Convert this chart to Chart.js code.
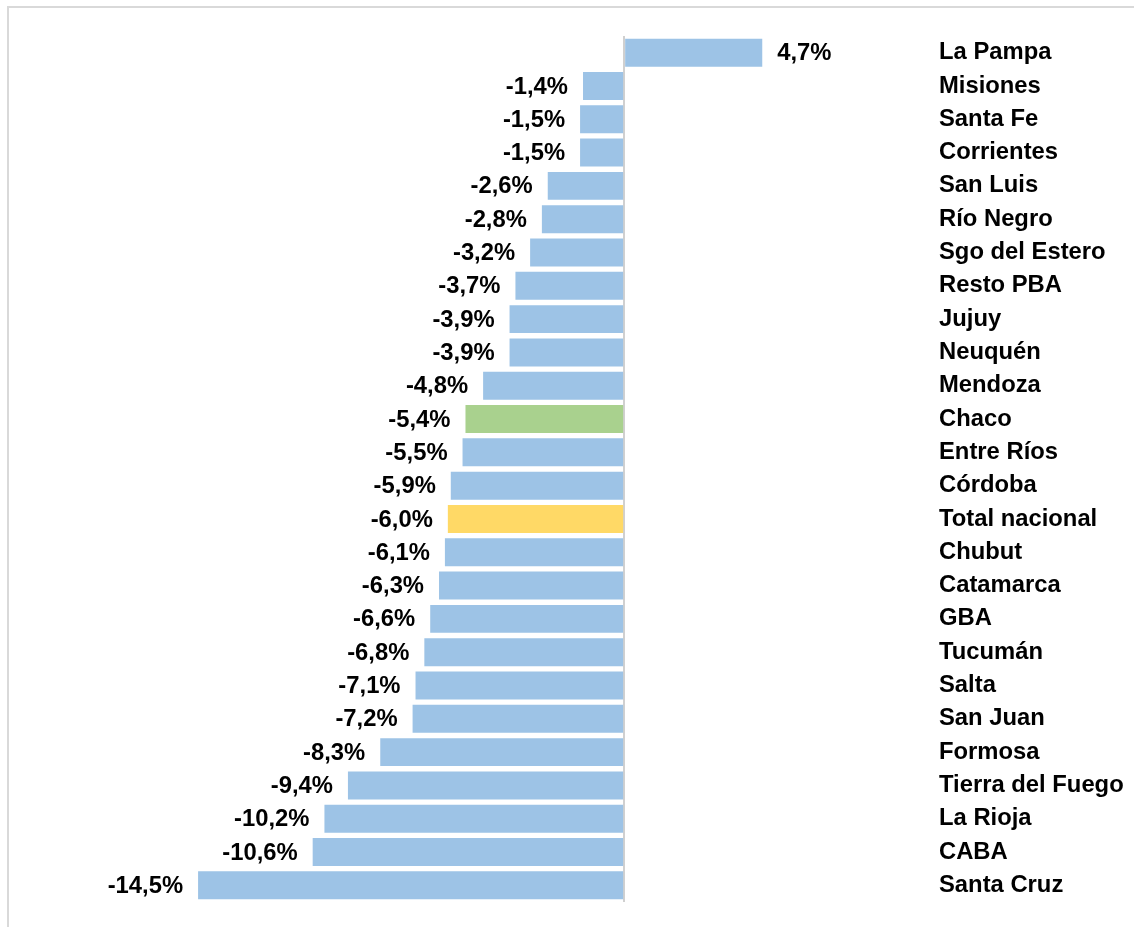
<!DOCTYPE html>
<html>
<head>
<meta charset="utf-8">
<script src="https://cdn.jsdelivr.net/npm/chart.js@4"></script>
<style>
  html, body { margin: 0; padding: 0; background: #fff; overflow: hidden; }
  #wrap { position: relative; width: 1134px; height: 927px; }
  #frame { position: absolute; left: 7px; top: 6px; width: 1200px; height: 1000px;
           border-top: 2px solid #d9d9d9; border-left: 2px solid #d9d9d9; }
  #c { position: absolute; left: 0; top: 0; }
</style>
</head>
<body>
<div id="wrap">
  <div id="frame"></div>
  <canvas id="c" width="1134" height="927"></canvas>
</div>
<script>
// provincias, de arriba hacia abajo
const provincias = ['La Pampa', 'Misiones', 'Santa Fe', 'Corrientes', 'San Luis', 'Río Negro',
  'Sgo del Estero', 'Resto PBA', 'Jujuy', 'Neuquén', 'Mendoza', 'Chaco', 'Entre Ríos', 'Córdoba',
  'Total nacional', 'Chubut', 'Catamarca', 'GBA', 'Tucumán', 'Salta', 'San Juan', 'Formosa',
  'Tierra del Fuego', 'La Rioja', 'CABA', 'Santa Cruz'];
const variacion = [4.7, -1.4, -1.5, -1.5, -2.6, -2.8, -3.2, -3.7, -3.9, -3.9, -4.8, -5.4, -5.5, -5.9,
  -6.0, -6.1, -6.3, -6.6, -6.8, -7.1, -7.2, -8.3, -9.4, -10.2, -10.6, -14.5];

const azul = '#9dc3e6';
const destacados = { 'Chaco': '#a9d18e', 'Total nacional': '#ffd966' };
const colores = provincias.map(p => destacados[p] || azul);

const fuente = '"Liberation Sans", Arial, sans-serif';
const tam = 23.8;

const etiquetas = {
  id: 'etiquetas',
  afterDatasetsDraw(chart) {
    const ctx = chart.ctx;
    const meta = chart.getDatasetMeta(0);
    ctx.save();
    ctx.font = 'bold ' + tam + 'px ' + fuente;
    ctx.fillStyle = '#000';
    ctx.textBaseline = 'middle';
    meta.data.forEach((bar, i) => {
      const v = variacion[i];
      const txt = v.toFixed(1).replace('.', ',') + '%';
      if (v < 0) {
        ctx.textAlign = 'right';
        ctx.fillText(txt, bar.x - 15, bar.y + 1);
      } else {
        ctx.textAlign = 'left';
        ctx.fillText(txt, bar.x + 15, bar.y + 1);
      }
    });
    ctx.restore();
  }
};

new Chart(document.getElementById('c').getContext('2d'), {
  type: 'bar',
  data: {
    labels: provincias,
    datasets: [{
      data: variacion,
      backgroundColor: colores,
      borderWidth: 0,
      categoryPercentage: 1,
      barPercentage: 0.84
    }]
  },
  options: {
    indexAxis: 'y',
    responsive: false,
    animation: false,
    layout: { padding: { left: 154, top: 36, bottom: 25, right: 0 } },
    plugins: { legend: { display: false }, tooltip: { enabled: false } },
    scales: {
      x: {
        min: -16,
        max: 10,
        afterBuildTicks(s) { s.ticks = [{ value: 0 }]; },
        ticks: { display: false },
        grid: { color: '#d0d0d0', lineWidth: 2, drawTicks: false },
        border: { display: false }
      },
      y: {
        position: 'right',
        afterFit(s) { s.width = 216; s.paddingTop = 0; s.paddingBottom = 0; },
        grid: { display: false, drawTicks: false },
        border: { display: false },
        ticks: {
          padding: 21,
          color: '#000',
          font: { family: fuente, size: tam, weight: 'bold' }
        }
      }
    }
  },
  plugins: [etiquetas]
});
</script>
</body>
</html>
